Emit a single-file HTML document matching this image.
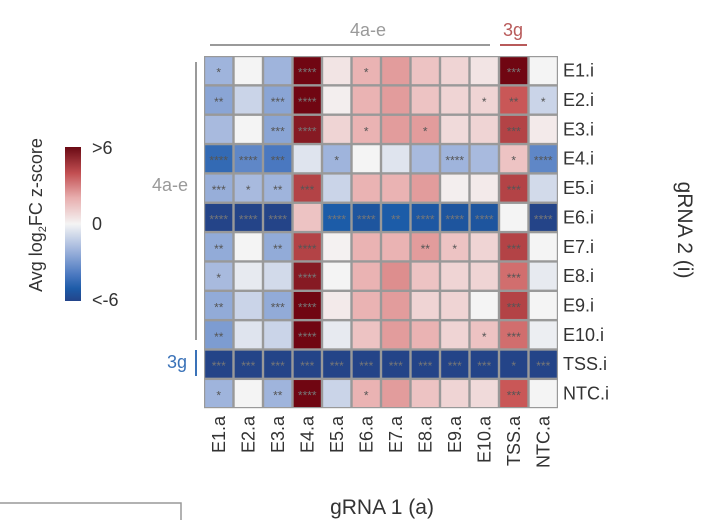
<!DOCTYPE html>
<html><head><meta charset="utf-8"><style>
body{margin:0;background:#fff;}
svg{display:block;font-family:"Liberation Sans",sans-serif;}
</style></head><body>
<svg id="chart" width="702" height="520" viewBox="0 0 702 520" xmlns="http://www.w3.org/2000/svg">
<defs>
<linearGradient id="cbg" x1="0" y1="1" x2="0" y2="0">
<stop offset="0" stop-color="#23448a"/><stop offset="0.08" stop-color="#1d5ca8"/><stop offset="0.17" stop-color="#4a78c0"/><stop offset="0.33" stop-color="#9fb4dc"/><stop offset="0.5" stop-color="#f4f4f4"/><stop offset="0.67" stop-color="#e8aeae"/><stop offset="0.83" stop-color="#c24f52"/><stop offset="1" stop-color="#6a0a14"/>
</linearGradient>
</defs>
<rect x="0" y="0" width="702" height="520" fill="#fff"/>
<g id="cells"></g>
<g id="rowlabels"></g>
<g id="collabels"></g>
<line x1="210" y1="45" x2="490" y2="45" stroke="#9a9a9a" stroke-width="2"/>
<text x="368" y="36" font-size="18" fill="#9a9a9a" text-anchor="middle">4a-e</text>
<line x1="500" y1="45" x2="527" y2="45" stroke="#b85a5a" stroke-width="2"/>
<text x="513" y="36" font-size="18" fill="#b85a5a" text-anchor="middle">3g</text>
<line x1="196" y1="62" x2="196" y2="340" stroke="#9a9a9a" stroke-width="2"/>
<text x="188" y="191" font-size="18" fill="#9a9a9a" text-anchor="end">4a-e</text>
<line x1="196" y1="350" x2="196" y2="376" stroke="#3a72b8" stroke-width="2"/>
<text x="187" y="368" font-size="18" fill="#3a72b8" text-anchor="end">3g</text>
<text x="382" y="514" font-size="21" fill="#333" text-anchor="middle">gRNA 1 (a)</text>
<text transform="translate(678,230) rotate(90)" font-size="21" fill="#333" text-anchor="middle">gRNA 2 (i)</text>
<rect x="65" y="147" width="16" height="154" fill="url(#cbg)"/>
<text x="92" y="154" font-size="18" fill="#333">&gt;6</text>
<text x="92" y="230" font-size="18" fill="#333">0</text>
<text x="92" y="306" font-size="18" fill="#333">&lt;-6</text>
<text transform="translate(42,215) rotate(-90)" font-size="18" fill="#333" text-anchor="middle">Avg log<tspan font-size="11" dy="4">2</tspan><tspan dy="-4">FC z-score</tspan></text>
<path d="M0 503 H181 V520" fill="none" stroke="#999" stroke-width="1.5"/>
</svg>
<script>
const rowLabels=["E1.i","E2.i","E3.i","E4.i","E5.i","E6.i","E7.i","E8.i","E9.i","E10.i","TSS.i","NTC.i"];
const colLabels=["E1.a","E2.a","E3.a","E4.a","E5.a","E6.a","E7.a","E8.a","E9.a","E10.a","TSS.a","NTC.a"];
const zValues=[
[-2,0,-2,6,0.5,2,2.5,1.5,1,0.5,6,0],
[-2.5,-1,-2.5,6,0.2,2,2.5,1.5,1,1,4,-1],
[-1.8,0,-2.5,5.5,1,2,2.5,2.5,0.8,1,4.5,0.3],
[-4.5,-3.5,-4,-0.5,-2,0,-0.5,-1.8,-2,-1.8,1.5,-3.5],
[-2.2,-1.8,-2,4.5,-1,2,2,2.5,0.2,0.3,4.5,-0.8],
[-6,-6,-6,1.5,-5,-5.3,-5,-5.2,-5.3,-5.3,0,-6],
[-2.3,0,-2.3,4.5,0.1,2,2,2.5,1.5,1,4.5,0],
[-1.8,-0.3,-0.8,5.5,0,2,2.8,1.5,1,1,3.5,-0.3],
[-2.3,-1,-2.3,6.5,0.3,2,2.5,1,1,0,4.5,0],
[-2.8,-0.5,-1,6.5,-0.3,1.5,2.5,2,1,1.5,3.5,-0.2],
[-6.5,-6.5,-6.5,-6.5,-6.5,-6.5,-6.5,-6.5,-6.5,-6.5,-6,-6.5],
[-2,0,-2,6,-1,2,2.5,1.5,1,0.8,4,0]];
const stars=[
["*","","","****","","*","","","","","***",""],
["**","","***","****","","","","","","*","**","*"],
["","","***","****","","*","","*","","","***",""],
["****","****","***","","*","","","","****","","*","****"],
["***","*","**","***","","","","","","","***",""],
["****","****","****","","****","****","**","****","****","****","","****"],
["**","","**","****","","","","**","*","","***",""],
["*","","","****","","","","","","","***",""],
["**","","***","****","","","","","","","***",""],
["**","","","****","","","","","","*","***",""],
["***","***","***","***","***","***","***","***","***","***","*","***"],
["*","","**","****","","*","","","","","***",""]];
const NS="http://www.w3.org/2000/svg";
const X0=204,Y0=56,CW=29.5,CH=29.35;
function xPos(c){return X0+c*CW;}
function yPos(r){return Y0+r*CH;}
const stops=[[-6,[36,68,136]],[-5,[28,92,168]],[-4,[74,120,192]],[-2,[159,180,220]],[0,[244,244,244]],[2,[234,179,179]],[4,[201,87,87]],[6,[112,6,18]]];
function color(v){v=Math.max(-6,Math.min(6,v));
 for(let i=0;i<stops.length-1;i++){const a=stops[i],b=stops[i+1];
  if(v<=b[0]){const t=(v-a[0])/(b[0]-a[0]);return "rgb("+a[1].map((x,k)=>Math.round(x+(b[1][k]-x)*t)).join(",")+")";}}
 return "rgb(112,6,18)";}
const gC=document.getElementById("cells");
const bg=document.createElementNS(NS,"rect");


bg.setAttribute("x",X0);bg.setAttribute("y",Y0);bg.setAttribute("width",CW*colLabels.length);bg.setAttribute("height",CH*rowLabels.length);bg.setAttribute("fill","#999");
gC.appendChild(bg);
zValues.forEach((row,r)=>row.forEach((v,c)=>{
 const rc=document.createElementNS(NS,"rect");
 
 
 rc.setAttribute("x",xPos(c)+1.2);rc.setAttribute("y",yPos(r)+1.2);
 rc.setAttribute("width",CW-2.4);rc.setAttribute("height",CH-2.4);rc.setAttribute("fill",color(v));
 gC.appendChild(rc);
 const s=stars[r][c];
 if(s){const t=document.createElementNS(NS,"text");
  
  
  t.setAttribute("x",xPos(c)+CW/2);t.setAttribute("y",yPos(r)+CH/2+6);
  t.setAttribute("text-anchor","middle");t.setAttribute("font-size","12");t.setAttribute("fill",v<-4.5||v>4.5?"#777":"#555");
  t.textContent=s;gC.appendChild(t);}
}));
const gR=document.getElementById("rowlabels");
rowLabels.forEach((l,r)=>{const t=document.createElementNS(NS,"text");
 
 
 t.setAttribute("x",563);t.setAttribute("y",yPos(r)+CH/2+6);t.setAttribute("font-size","18");t.setAttribute("fill","#333");
 t.textContent=l;gR.appendChild(t);});
const gL=document.getElementById("collabels");
colLabels.forEach((l,c)=>{const t=document.createElementNS(NS,"text");
 
 
 const x=xPos(c)+CW/2+6,y=416;
 t.setAttribute("transform","translate("+x+","+y+") rotate(-90)");
 t.setAttribute("text-anchor","end");t.setAttribute("font-size","18");t.setAttribute("fill","#333");
 t.textContent=l;gL.appendChild(t);});
</script>
</body></html>
